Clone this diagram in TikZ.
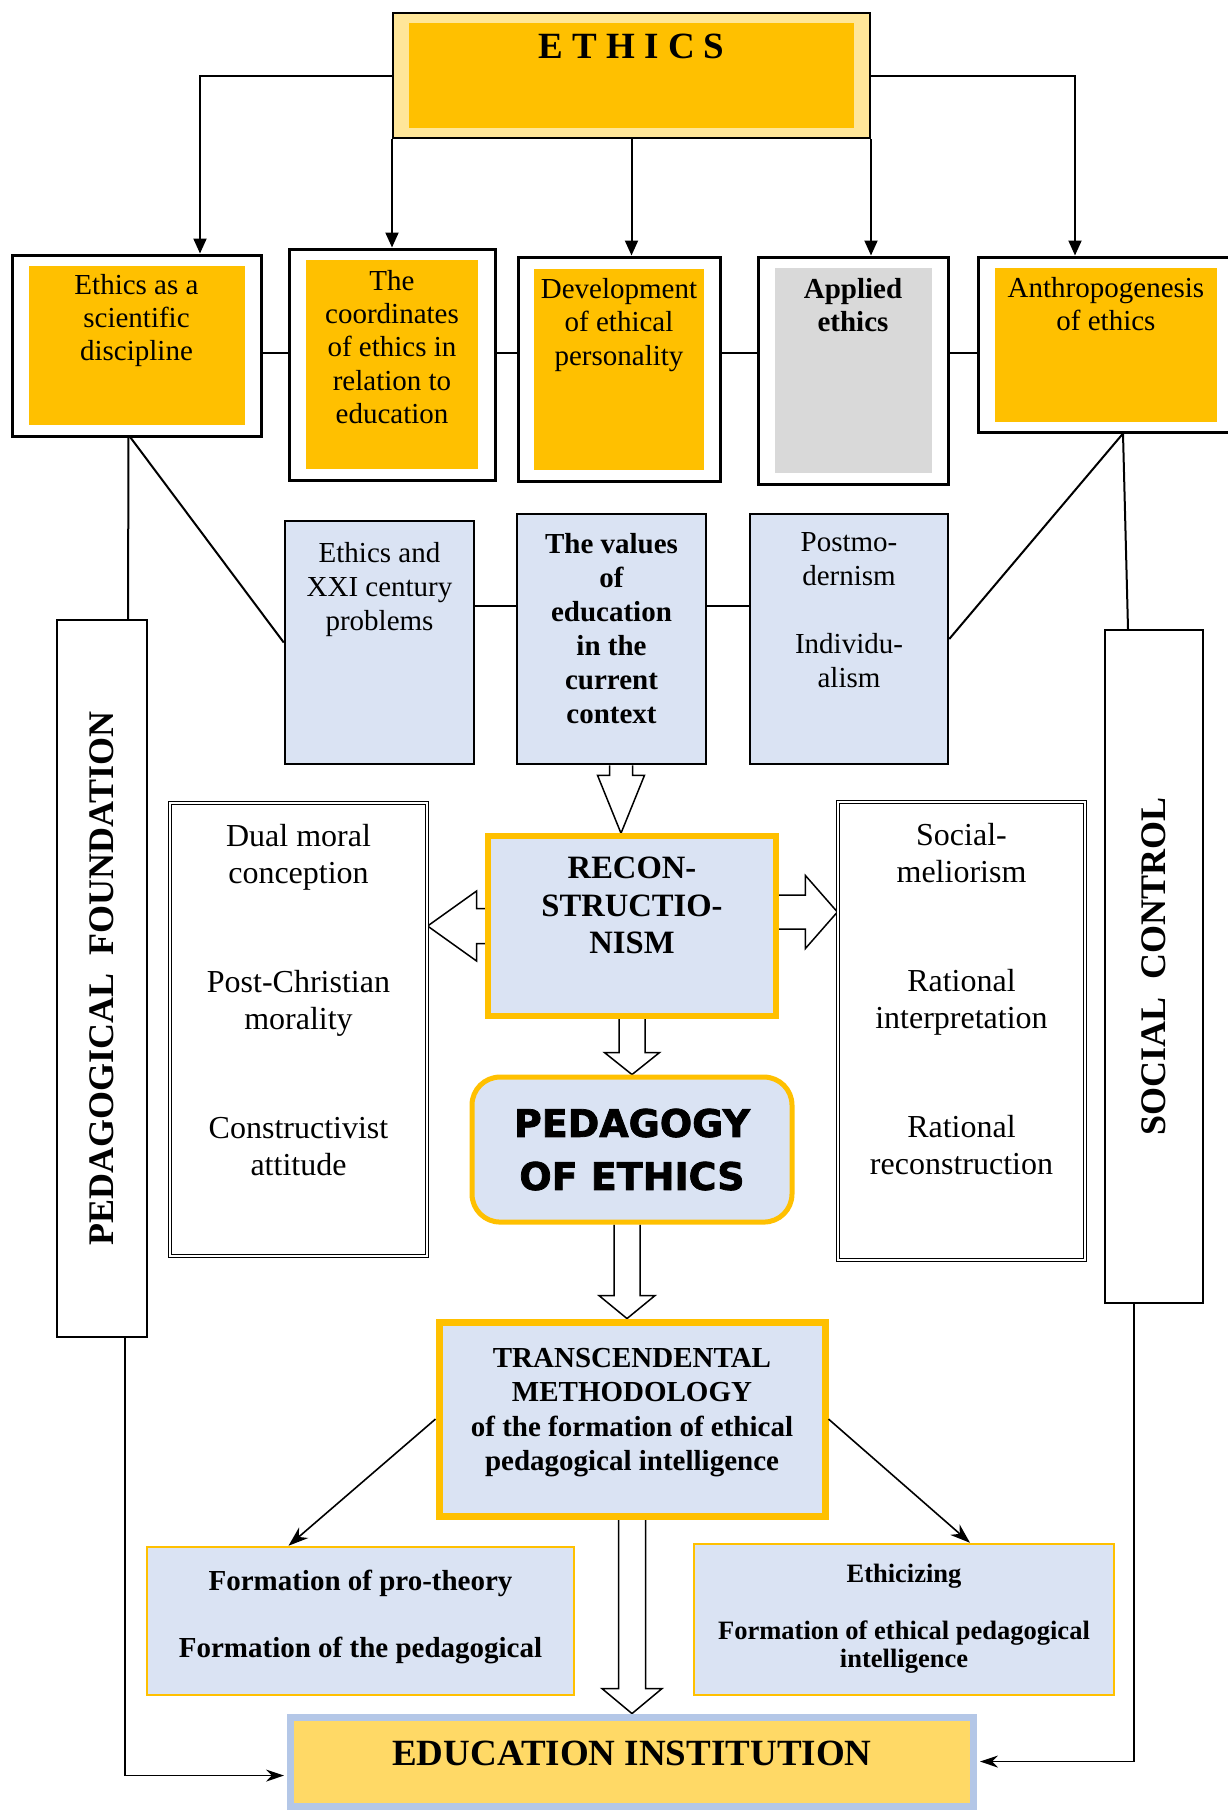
\documentclass[tikz,border=0pt]{standalone}
\usepackage{fontspec}
\setmainfont{Liberation Serif}
\newfontfamily\heavysans{DejaVu Sans}[BoldFeatures={FakeBold=2}]
\usepackage{graphicx}
\usepackage{tikz}
\usetikzlibrary{arrows.meta, positioning, calc, backgrounds}
\usepackage{xcolor}
\definecolor{gold}{HTML}{FFC000}
\definecolor{lightgold}{HTML}{FFE699}
\definecolor{paleblue}{HTML}{DAE3F3}
\definecolor{panelgrey}{HTML}{D9D9D9}
\definecolor{eduyellow}{HTML}{FFD966}
\definecolor{edublue}{HTML}{B4C7E7}
\setlength{\fboxsep}{0pt}

% text block pinned to the top of a fixed-size box
\newcommand{\topbox}[4]{\parbox[c][#2][t]{#1}{\centering\vspace*{#3}#4\par}}
% hollow block arrows: from, to, half shaft, half head, head length
\newcommand{\blockdown}[5]{\draw [blockarrow] let \p1=(#1), \p2=(#2) in
    ({\x1-#3},\y1) -- ({\x1-#3},{\y2+#5}) -- ({\x1-#4},{\y2+#5}) -- (\x1,\y2)
    -- ({\x1+#4},{\y2+#5}) -- ({\x1+#3},{\y2+#5}) -- ({\x1+#3},\y1);}
\newcommand{\blockacross}[5]{\draw [blockarrow] let \p1=(#1), \p2=(#2) in
    (\x1,{\y1+#3}) -- ({\x2-(#5)},{\y1+#3}) -- ({\x2-(#5)},{\y1+#4}) -- (\x2,\y1)
    -- ({\x2-(#5)},{\y1-#4}) -- ({\x2-(#5)},{\y1-#3}) -- (\x1,{\y1-#3});}

\tikzstyle{titlebox} = [draw=black, line width=1pt, fill=lightgold, inner xsep=8pt, inner ysep=5pt, font=\fontsize{18.5pt}{22pt}\selectfont\bfseries]
\tikzstyle{framebox} = [draw=black, line width=1.5pt, fill=white, inner xsep=8.25pt, inner ysep=5.5pt, font=\fontsize{14.5pt}{16.65pt}\selectfont]
\tikzstyle{themebox} = [draw=black, line width=1.25pt, fill=paleblue, inner sep=0pt, font=\fontsize{14.5pt}{17pt}\selectfont]
\tikzstyle{listbox} = [draw=black, line width=0.6pt, double=white, double distance=1pt, fill=white, inner sep=0pt, font=\fontsize{16pt}{18.5pt}\selectfont]
\tikzstyle{corebox} = [draw=gold, line width=2.75pt, fill=paleblue, inner sep=0pt, font=\fontsize{16.3pt}{18.75pt}\selectfont\bfseries]
\tikzstyle{pedbox} = [draw=gold, line width=2.5pt, fill=paleblue, rounded corners=14pt, minimum width=160pt, minimum height=72.5pt, align=center, font=\heavysans\fontsize{19pt}{26.5pt}\selectfont\bfseries]
\tikzstyle{sidebox} = [draw=black, line width=1pt, fill=white, inner sep=0pt, font=\fontsize{18pt}{20pt}\selectfont\bfseries]
\tikzstyle{outbox} = [draw=gold, line width=1.25pt, fill=paleblue, inner sep=0pt, font=\fontsize{14.5pt}{16.75pt}\selectfont\bfseries]
\tikzstyle{instbox} = [draw=edublue, line width=3.5pt, fill=eduyellow, inner sep=0pt, font=\fontsize{18.5pt}{22pt}\selectfont\bfseries]
\tikzstyle{link} = [line width=1pt]
\tikzstyle{arrow} = [line width=1pt, -{Triangle[length=7.5pt, width=6.5pt]}]
\tikzstyle{thinarrow} = [line width=0.8pt, -{Stealth[length=10pt, width=7pt]}]
\tikzstyle{sidearrow} = [line width=0.8pt, shorten >=1.5pt, -{Stealth[length=9pt, width=6pt]}]
\tikzstyle{blockarrow} = [draw=black, fill=white, line width=0.75pt]

\begin{document}
\begin{tikzpicture}[x=0.5pt, y=-0.5pt]
    \useasboundingbox (0,0) rectangle (1227,1810);
    \coordinate (toprow) at (0,353);
    \coordinate (midrow) at (0,606);

    % Title
    \node (ethics) [titlebox] at (631.5,75.5) {\colorbox{gold}{\topbox{222.5pt}{52.5pt}{5.25pt}{E~T~H~I~C~S}}};

    % First row
    \node (science) [framebox] at (136.5,345.5) {\colorbox{gold}{\topbox{108pt}{79.5pt}{4pt}{Ethics as a\\scientific\\discipline}}};
    \node (coords) [framebox, inner xsep=8.5pt] at (392,364.5) {\colorbox{gold}{\topbox{86pt}{104.5pt}{5pt}{The\\coordinates\\of ethics in\\relation to\\education}}};
    \node (devel) [framebox, inner xsep=8pt, inner ysep=5.75pt] at (619,369) {\colorbox{gold}{\topbox{85pt}{100.5pt}{5pt}{Development\\of ethical\\personality}}};
    \node (applied) [framebox] at (853,370.5) {\colorbox{panelgrey}{\topbox{78.5pt}{102.5pt}{5pt}{\bfseries Applied\\ethics}}};
    \node (anthro) [framebox, inner xsep=8.5pt, inner ysep=5.25pt] at (1106,344.5) {\colorbox{gold}{\topbox{111pt}{77pt}{5pt}{Anthropogenesis\\of ethics}}};

    % Second row
    \node (xxi) [themebox] at (379.5,642.5) {\topbox{94.5pt}{121.5pt}{10.5pt}{Ethics and\\XXI century\\problems}};
    \node (values) [themebox] at (611.5,639) {\topbox{94.5pt}{125pt}{9.5pt}{\bfseries The values\\of\\education\\in the\\current\\context}};
    \node (postmod) [themebox, right=20.75pt of values] {\topbox{99pt}{125pt}{9.5pt}{Postmo-\\dernism\\[17pt]Individu-\\alism}};

    % Core and its branches
    \node (recon) [corebox] at (632,926) {\topbox{144pt}{90pt}{10.5pt}{RECON-\\STRUCTIO-\\NISM}};
    \node (dual) [listbox] at (298.5,1029.5) {\topbox{128.5pt}{226.5pt}{10.5pt}{Dual moral\\conception\\[36pt]Post-Christian\\morality\\[36pt]Constructivist\\attitude}};
    \node (meli) [listbox] at (961.5,1031) {\topbox{123.5pt}{229pt}{10.5pt}{Social-\\meliorism\\[36pt]Rational\\interpretation\\[36pt]Rational\\reconstruction}};
    \node (pedag) [pedbox, below=27.9pt of recon] {PEDAGOGY\\OF ETHICS};
    \node (trans) [corebox, line width=3.5pt, font=\fontsize{14.5pt}{17.25pt}\selectfont\bfseries, below=47pt of pedag] {\topbox{193pt}{97pt}{13pt}{TRANSCENDENTAL\\METHODOLOGY\\of the formation of ethical\\pedagogical intelligence}};
    \node (protheory) [outbox] at (360.5,1621) {\topbox{213.5pt}{74pt}{11.5pt}{Formation of pro-theory\\[16.75pt]Formation of the pedagogical}};
    \node (ethicize) [outbox, font=\fontsize{13.25pt}{13.75pt}\selectfont\bfseries] at (904,1619.5) {\topbox{210pt}{75.5pt}{10pt}{Ethicizing\\[15pt]Formation of ethical pedagogical\\intelligence}};
    \node (inst) [instbox, below=97pt of trans] {\topbox{341.5pt}{44.5pt}{11.75pt}{EDUCATION INSTITUTION}};

    % Side columns
    \node (found) [sidebox, minimum width=45pt, minimum height=358.5pt] at (102,978.5) {\rotatebox{90}{PEDAGOGICAL~~FOUNDATION}};
    \node (social) [sidebox, minimum width=49pt, minimum height=336.5pt] at (1154,966.5) {\rotatebox{90}{SOCIAL~~CONTROL}};

    % Links from the title
    \draw [arrow] (ethics.west) -| ([xshift=31.75pt]science.north);
    \draw [arrow] (ethics.east) -| ([xshift=-15.5pt]anthro.north);
    \draw [arrow] (coords.north |- ethics.south) -- (coords.north);
    \draw [arrow] (ethics.south) -- (ethics.south |- devel.north);
    \draw [arrow] (ethics.south east) -- (ethics.south east |- applied.north);

    % Links along the rows
    \draw [link] (science.east |- toprow) -- (coords.west |- toprow)
                 (coords.east |- toprow) -- (devel.west |- toprow)
                 (devel.east |- toprow) -- (applied.west |- toprow)
                 (applied.east |- toprow) -- (anthro.west |- toprow);
    \draw [link] (xxi.east |- midrow) -- (values.west |- midrow)
                 (values.east |- midrow) -- (postmod.west |- midrow);

    % Side branches
    \draw [link] ([xshift=-4pt]science.south) -- ([xshift=13pt]found.north);
    \draw [link] ([xshift=-3pt]science.south) -- (xxi.west);
    \draw [link] ([xshift=8.5pt]anthro.south) -- (postmod.east);
    \draw [link] ([xshift=8.5pt]anthro.south) -- ([xshift=-13pt]social.north);

    % Hollow arrows
    \begin{scope}[on background layer]
        \blockdown{[xshift=4.75pt]values.south}{recon.north}{5.75pt}{11.75pt}{29pt}
        \blockacross{recon.west}{dual.east}{8.75pt}{17.5pt}{-24.5pt}
        \blockacross{[yshift=7pt]recon.east}{meli.west}{8.5pt}{18.25pt}{16pt}
        \blockdown{recon.south}{pedag.north}{6.5pt}{13.75pt}{11pt}
        \blockdown{[xshift=-2.5pt]pedag.south}{trans.north}{6.5pt}{14pt}{11.5pt}
        \blockdown{trans.south}{inst.north}{6.75pt}{15pt}{12.5pt}
    \end{scope}

    % Lower links
    \draw [thinarrow] (trans.west) -- ([xshift=-36pt]protheory.north);
    \draw [thinarrow] (trans.east) -- ([xshift=33pt]ethicize.north);
    \draw [sidearrow] ([xshift=11.5pt]found.south) |- ([yshift=-7pt]inst.west);
    \draw [sidearrow] ([xshift=-10pt]social.south) |- (inst.east);
\end{tikzpicture}
\end{document}
